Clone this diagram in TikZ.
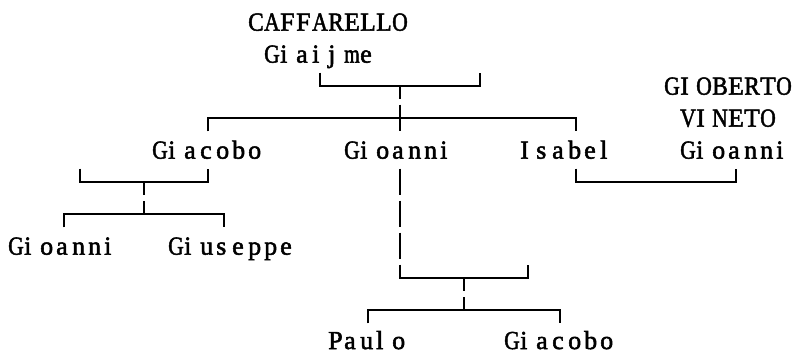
\documentclass[tikz,border=0pt]{standalone}
\usepackage{fontspec}
\usepackage{graphicx}
\setmainfont{Liberation Serif}[FakeBold=2]
\newcommand\fitcell[1]{\sbox0{#1}\ifdim\wd0>15.6pt
  \makebox[16pt][l]{\resizebox{15.6pt}{\height}{#1}}\else
  \makebox[16pt][l]{#1}\fi}
\ExplSyntaxOn
\NewDocumentCommand\cells{m}{\tl_map_inline:nn{#1}{\fitcell{##1}}}
\ExplSyntaxOff
\tikzset{
  person/.style={anchor=base west,inner sep=0pt,font=\fontsize{26pt}{32pt}\selectfont},
  link/.style={line width=2pt,line join=miter}
}
\begin{document}
\begin{tikzpicture}
\useasboundingbox (0,0) rectangle (794pt,-354pt);
\begin{scope}[shift={(16pt,-22pt)},x=16pt,y=-32pt]
\node[person] (caff) at (14.5,.27) {\cells{CAFFARELLO}};
\node[person] (giaijme) at (15.5,1.27) {\cells{Giaijme}};
\node[person] (giob) at (40.5,2.27) {\cells{GIOBERTO}};
\node[person] (vin) at (41.5,3.27) {\cells{VINETO}};
\node[person] (giacobo) at (8.5,4.27) {\cells{Giacobo}};
\node[person] (gioanni) at (20.5,4.27) {\cells{Gioanni}};
\node[person] (isabel) at (31.5,4.27) {\cells{Isabel}};
\node[person] (gioannivin) at (41.5,4.27) {\cells{Gioanni}};
\node[person] (gioannijr) at (-.5,7.27) {\cells{Gioanni}};
\node[person] (giuseppe) at (9.5,7.27) {\cells{Giuseppe}};
\node[person] (paulo) at (19.5,10.22) {\cells{Paulo}};
\node[person] (giacobojr) at (30.5,10.22) {\cells{Giacobo}};
% Giaijme's children
\coordinate (a1) at (19,2);
\coordinate (a2) at (24,2);
\coordinate (a3) at (29,2);
\coordinate (b1) at (12,3);
\coordinate (b2) at (24,3);
\coordinate (b3) at (35,3);
\draw[link] (a1) ++(0,-.42) -- (a1) -- (a3) -- ++(0,-.42);
\draw[link] (a2) -- ++(0,.42);
\draw[link] (b1) ++(0,.42) -- (b1) -- (b3) -- ++(0,.42);
\draw[link] (b2) ++(0,-.42) -- ++(0,.84);
% Giacobo's children
\coordinate (c1) at (4,5);
\coordinate (c2) at (8,5);
\coordinate (c3) at (12,5);
\coordinate (d1) at (3,6);
\coordinate (d2) at (8,6);
\coordinate (d3) at (13,6);
\draw[link] (c1) ++(0,-.42) -- (c1) -- (c3) -- ++(0,-.42);
\draw[link] (c2) -- ++(0,.42);
\draw[link] (d1) ++(0,.42) -- (d1) -- (d3) -- ++(0,.42);
\draw[link] (d2) -- ++(0,-.42);
% Isabel and Gioanni
\coordinate (e1) at (35,5);
\coordinate (e2) at (45,5);
\draw[link] (e1) ++(0,-.42) -- (e1) -- (e2) -- ++(0,-.42);
% Gioanni's children
\foreach \r in {5,6,7}
  \draw[link] (24,\r-.42) -- (24,\r+.42);
\coordinate (f1) at (24,8);
\coordinate (f2) at (28,8);
\coordinate (f3) at (32,8);
\coordinate (g1) at (22,9);
\coordinate (g2) at (28,9);
\coordinate (g3) at (34,9);
\draw[link] (f1) ++(0,-.42) -- (f1) -- (f3) -- ++(0,-.42);
\draw[link] (f2) -- ++(0,.42);
\draw[link] (g1) ++(0,.42) -- (g1) -- (g3) -- ++(0,.42);
\draw[link] (g2) -- ++(0,-.42);
\end{scope}
\end{tikzpicture}
\end{document}
